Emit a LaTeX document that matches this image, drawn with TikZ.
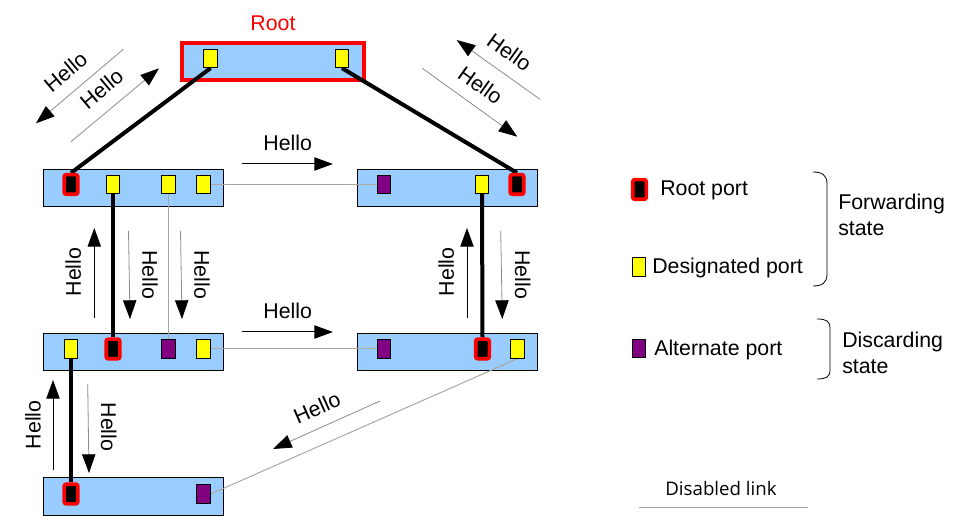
\documentclass[tikz,border=0pt]{standalone}
\usepackage{fontspec}
\setmainfont{Liberation Sans}
\newfontfamily\dfont{Open Sans}
\usetikzlibrary{arrows.meta}
\definecolor{swblue}{RGB}{153,204,255}
\definecolor{pyellow}{RGB}{255,255,0}
\definecolor{ppurple}{RGB}{128,0,128}
\definecolor{linkgray}{RGB}{170,167,160}
\pgfdeclarelayer{boxes}
\pgfdeclarelayer{links}
\pgfsetlayers{boxes,links,main}
\begin{document}
\begin{tikzpicture}[x=0.75pt,y=-0.75pt,
  font=\fontsize{16}{19.5}\selectfont,
  switchbox/.style={draw=black, line width=0.75pt, fill=swblue, minimum width=135pt, minimum height=28pt, inner sep=0pt},
  rootbox/.style={switchbox, draw=red, line width=3pt, minimum width=136.5pt, minimum height=27.75pt},
  port/.style={draw=black, line width=0.75pt, minimum width=10pt, minimum height=13.75pt, inner sep=0pt},
  desig/.style={port, fill=pyellow},
  altport/.style={port, fill=ppurple},
  rootport/.style={port, fill=black, draw=red, line width=2.7pt, rounded corners=1.5pt, minimum width=10.2pt, minimum height=14.7pt},
  activelink/.style={line width=3pt, black},
  disabled/.style={draw=linkgray, line width=0.75pt},
  hello/.style={-{Triangle[length=14pt,width=10pt,color=black]}, line width=0.75pt, black},
  hellofaint/.style={hello, draw=black!45, line width=0.6pt},
  txt/.style={inner sep=0pt},
  bracestyle/.style={line width=0.6pt, black}
]
\useasboundingbox (0,0) rectangle (965,531);

% switches
\begin{pgfonlayer}{boxes}
\node[rootbox] (root) at (273,61.5) {};
\node[switchbox] (tl) at (133.5,188) {};
\node[switchbox] (tr) at (447.5,188) {};
\node[switchbox] (ml) at (133.5,352) {};
\node[switchbox] (mr) at (447.5,352) {};
\node[switchbox] (bl) at (133.5,496.5) {};
\end{pgfonlayer}

\node[txt, text=red] (rootlbl) at (273,23.3) {Root};

% ports
\node[desig] (rp1) at (210.5,58.5) {};
\node[desig] (rp2) at (342,58.5) {};

\node[rootport] (tlr) at (71,184.5) {};
\node[desig] (tl1) at (113,184.5) {};
\node[desig] (tl2) at (168.5,184.5) {};
\node[desig] (tl3) at (203.5,184.5) {};

\node[altport] (tra) at (384,184.5) {};
\node[desig] (trd) at (482,184.5) {};
\node[rootport] (trr) at (517,184.5) {};

\node[desig] (mld) at (71,349) {};
\node[rootport] (mlr) at (113,349) {};
\node[altport] (mla) at (168.5,349) {};
\node[desig] (mld2) at (203.5,349) {};

\node[altport] (mra) at (384,349) {};
\node[rootport] (mrr) at (482.5,349) {};
\node[desig] (mrd) at (517.5,349) {};

\node[rootport] (blr) at (71,494) {};
\node[altport] (bla) at (203.5,494) {};

% links
\begin{pgfonlayer}{links}
\draw[activelink] (rp1.south) -- (tlr.north);
\draw[activelink] (rp2.south) -- (trr.north);
\draw[activelink] (tl1.south) -- (mlr.north);
\draw[activelink] (trd.south) -- (mrr.north);
\draw[activelink] (mld.south) -- (blr.north);
\draw[disabled] (tl3.east) -- (tra.west);
\draw[disabled] (tl2.south) -- (mla.north);
\draw[disabled] (mld2.east) -- (mra.west);
\draw[disabled] (mrd.south) -- (bla.east);
\end{pgfonlayer}

% Hello arrows: endpoints
\coordinate (a1s) at (123.3,49.3);  \coordinate (a1e) at (36,123.3);
\coordinate (a2s) at (71,141.7);    \coordinate (a2e) at (159,68.3);
\coordinate (a3s) at (540,99.3);    \coordinate (a3e) at (456.7,40);
\coordinate (a4s) at (422.3,68.3);  \coordinate (a4e) at (517.3,136.7);
\coordinate (a5s) at (242,164);     \coordinate (a5e) at (333,164);
\coordinate (a6s) at (242,332);     \coordinate (a6e) at (333,332);
\coordinate (a7s) at (94.3,318);    \coordinate (a7e) at (94.3,228);
\coordinate (a8s) at (128.5,231);   \coordinate (a8e) at (130,319);
\coordinate (a9s) at (180.5,231);   \coordinate (a9e) at (182,319);
\coordinate (a10s) at (467,318);    \coordinate (a10e) at (467,228);
\coordinate (a11s) at (500.7,231);  \coordinate (a11e) at (502.3,319);
\coordinate (a12s) at (53,470);     \coordinate (a12e) at (53,380);
\coordinate (a13s) at (87.7,384);   \coordinate (a13e) at (89,473);
\coordinate (a14s) at (380,401);    \coordinate (a14e) at (273,449);

\draw[hellofaint] (a1s) -- (a1e);
\draw[hellofaint] (a2s) -- (a2e);
\draw[hellofaint] (a3s) -- (a3e);
\draw[hellofaint] (a4s) -- (a4e);
\draw[hello] (a5s) -- (a5e);
\draw[hello] (a6s) -- (a6e);
\draw[hello] (a7s) -- (a7e);
\draw[hellofaint] (a8s) -- (a8e);
\draw[hellofaint] (a9s) -- (a9e);
\draw[hello] (a10s) -- (a10e);
\draw[hellofaint] (a11s) -- (a11e);
\draw[hello] (a12s) -- (a12e);
\draw[hellofaint] (a13s) -- (a13e);
\draw[hellofaint] (a14s) -- (a14e);

% Hello labels
\node[txt, rotate=40] (h1) at (65.5,72) {Hello};
\node[txt, rotate=40] (h2) at (101.5,89) {Hello};
\node[txt, rotate=-35.5] (h3) at (509.5,52) {Hello};
\node[txt, rotate=-35.5] (h4) at (480.5,85) {Hello};
\node[txt] (h5) at (287.7,142.5) {Hello};
\node[txt] (h6) at (287.7,311) {Hello};
\node[txt, rotate=90] (h7) at (73.3,272) {Hello};
\node[txt, rotate=-90] (h8) at (150,274.7) {Hello};
\node[txt, rotate=-90] (h9) at (202,274.7) {Hello};
\node[txt, rotate=90] (h10) at (446.2,271.7) {Hello};
\node[txt, rotate=-90] (h11) at (522.7,274.7) {Hello};
\node[txt, rotate=90] (h12) at (33,424.7) {Hello};
\node[txt, rotate=-90] (h13) at (108.7,427) {Hello};
\node[txt, rotate=24] (h14) at (317,407.5) {Hello};

% legend
\node[rootport] (lgr) at (639.5,189.5) {};
\node[desig] (lgd) at (639,267) {};
\node[altport] (lga) at (639,348.5) {};
\node[txt, anchor=west] (lgrt) at (660,190.7) {Root port};
\node[txt, anchor=west] (lgdt) at (652,267.5) {Designated port};
\node[txt, anchor=west] (lgat) at (654,350) {Alternate port};

\draw[bracestyle] (813,172) .. controls (822,172) and (827,175) .. (827,184) -- (827,274) .. controls (827,283) and (822,286) .. (813,286);
\draw[bracestyle] (817,319) .. controls (826,319) and (830,321) .. (830,328) -- (830,370) .. controls (830,377) and (826,379) .. (817,379);

\node[txt, anchor=north west, align=left] (fwd) at (838,193.3) {Forwarding\\state};
\node[txt, anchor=north west, align=left] (dsc) at (842,331.7) {Discarding\\state};

\node[txt, font=\dfont\fontsize{14}{17}\selectfont] (dl) at (721,488.5) {Disabled link};
\coordinate (dla) at (639,507);
\coordinate (dlb) at (808,507);
\draw[disabled] (dla) -- (dlb);
\end{tikzpicture}
\end{document}
